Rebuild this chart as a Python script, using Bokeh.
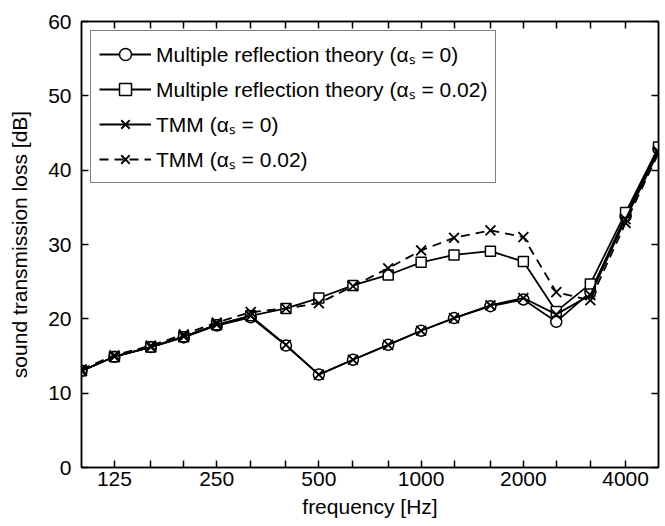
from bokeh.plotting import figure
from bokeh.models import (FixedTicker, LogAxis, LinearAxis, Legend, LegendItem,
                          CustomJSTickFormatter, Range1d)
from bokeh.embed import file_html
from bokeh.resources import INLINE

# third-octave band centre frequencies [Hz]
freqs = [100, 125, 160, 200, 250, 315, 400, 500, 630, 800, 1000, 1250, 1600,
         2000, 2500, 3150, 4000, 5000]

# sound transmission loss [dB]
mrt_a0 = [13.0, 14.9, 16.2, 17.5, 19.1, 20.2, 16.4, 12.5, 14.5, 16.5, 18.4,
          20.1, 21.7, 22.6, 19.6, 23.6, 33.8, 42.9]
mrt_a002 = [13.0, 14.9, 16.2, 17.6, 19.2, 20.4, 21.4, 22.8, 24.5, 25.9, 27.6,
            28.6, 29.1, 27.7, 21.0, 24.7, 34.3, 43.1]
tmm_a0 = [13.0, 14.9, 16.2, 17.6, 19.2, 20.4, 16.5, 12.5, 14.5, 16.5, 18.4,
          20.1, 21.8, 22.8, 20.6, 23.2, 33.4, 42.5]
tmm_a002 = [13.2, 15.1, 16.4, 17.9, 19.5, 20.9, 21.4, 22.1, 24.4, 26.8, 29.2,
            30.9, 31.9, 31.0, 23.6, 22.5, 32.9, 42.3]

labels = ["Multiple reflection theory (\u03b1\u209b = 0)",
          "Multiple reflection theory (\u03b1\u209b = 0.02)",
          "TMM (\u03b1\u209b = 0)",
          "TMM (\u03b1\u209b = 0.02)"]

x_ticks = [125, 160, 200, 250, 315, 400, 500, 630, 800, 1000, 1250, 1600,
           2000, 2500, 3150, 4000]
x_tick_labels = {125: "125", 250: "250", 500: "500", 1000: "1000",
                 2000: "2000", 4000: "4000"}
y_ticks = [0, 10, 20, 30, 40, 50, 60]

FONT = "Liberation Sans"
FS = "21px"

p = figure(width=665, height=526, x_axis_type="log",
           x_range=Range1d(100, 5000), y_range=Range1d(0, 60),
           output_backend="svg", toolbar_location=None,
           min_border_left=81, min_border_right=7, min_border_top=21,
           min_border_bottom=59)
p.xgrid.visible = False
p.ygrid.visible = False
p.outline_line_color = "black"
p.outline_line_width = 1.5
p.background_fill_color = "white"
p.border_fill_color = "white"

lw = 1.8
r1l = p.line(freqs, mrt_a0, line_color="black", line_width=lw)
r1m = p.scatter(freqs, mrt_a0, marker="circle", size=11, fill_color="white",
                line_color="black", line_width=1.5)
r2l = p.line(freqs, mrt_a002, line_color="black", line_width=lw)
r2m = p.scatter(freqs, mrt_a002, marker="square", size=10, fill_color="white",
                line_color="black", line_width=1.5)
r3l = p.line(freqs, tmm_a0, line_color="black", line_width=lw)
r3m = p.scatter(freqs, tmm_a0, marker="x", size=14, line_color="black",
                line_width=1.8)
r4l = p.line(freqs, tmm_a002, line_color="black", line_width=lw,
             line_dash="9 6")
r4m = p.scatter(freqs, tmm_a002, marker="x", size=14, line_color="black",
                line_width=1.8)

lab_js = "{" + ",".join(f'{k}:"{v}"' for k, v in x_tick_labels.items()) + "}"
tick_fmt = CustomJSTickFormatter(code=f"""
    const lab = {lab_js};
    const k = Math.round(tick);
    return (lab[k] !== undefined) ? lab[k] : "";
""")
blank = CustomJSTickFormatter(code="return '';")

def style_axis(ax):
    ax.axis_line_color = "black"
    ax.axis_line_width = 1.5
    ax.major_tick_line_color = "black"
    ax.major_tick_line_width = 1.5
    ax.major_tick_in = 7
    ax.major_tick_out = 0
    ax.minor_tick_line_color = None
    ax.major_label_text_font = FONT
    ax.major_label_text_font_size = FS
    ax.major_label_text_color = "black"
    ax.axis_label_text_font = FONT
    ax.axis_label_text_font_size = FS
    ax.axis_label_text_font_style = "normal"
    ax.axis_label_text_color = "black"

xa = p.xaxis[0]
style_axis(xa)
xa.ticker = FixedTicker(ticks=x_ticks)
xa.formatter = tick_fmt
xa.axis_label = "frequency [Hz]"
xa.major_label_standoff = 4
xa.axis_label_standoff = 6

ya = p.yaxis[0]
style_axis(ya)
ya.ticker = FixedTicker(ticks=y_ticks)
ya.axis_label = "sound transmission loss [dB]"
ya.major_label_standoff = 10
ya.axis_label_standoff = 14

top = LogAxis(ticker=FixedTicker(ticks=x_ticks), formatter=blank)
style_axis(top)
top.major_label_text_font_size = "0px"
top.major_label_standoff = 0
p.add_layout(top, "above")

right = LinearAxis(ticker=FixedTicker(ticks=y_ticks), formatter=blank)
style_axis(right)
right.major_label_text_font_size = "0px"
right.major_label_standoff = 0
p.add_layout(right, "right")

legend = Legend(items=[
    LegendItem(label=labels[0], renderers=[r1l, r1m]),
    LegendItem(label=labels[1], renderers=[r2l, r2m]),
    LegendItem(label=labels[2], renderers=[r3l, r3m]),
    LegendItem(label=labels[3], renderers=[r4l, r4m]),
], location="top_left")
legend.border_line_color = "black"
legend.border_line_width = 1.5
legend.background_fill_color = "white"
legend.background_fill_alpha = 1
legend.label_text_font = FONT
legend.label_text_font_size = FS
legend.label_text_color = "black"
legend.glyph_width = 52
legend.glyph_height = 30
legend.label_height = 30
legend.spacing = 5
legend.padding = 8
legend.margin = 9
legend.label_standoff = 5
p.add_layout(legend)

open("out.html", "w").write(file_html(p, INLINE))
